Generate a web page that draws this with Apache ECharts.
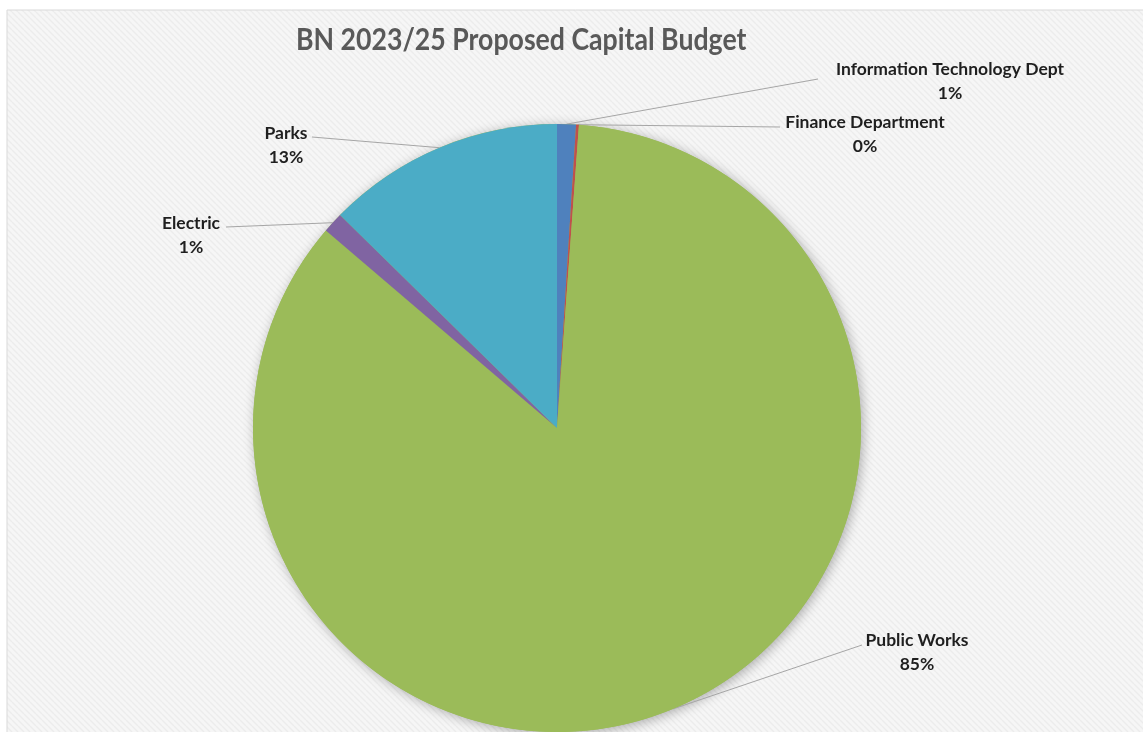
<!DOCTYPE html>
<html>
<head>
<meta charset="utf-8">
<title>BN 2023/25 Proposed Capital Budget</title>
<script src="https://cdn.jsdelivr.net/npm/echarts@6/dist/echarts.min.js"></script>
<style>
  html, body { margin: 0; padding: 0; background: #ffffff; }
  #chart { width: 1143px; height: 732px; }
</style>
</head>
<body>
<div id="chart"></div>
<script>
// Capital budget shares by department (percent of total)
const categories = ['Information Technology Dept', 'Finance Department', 'Public Works', 'Electric', 'Parks'];
const values = [1.0, 0.15, 85.1, 1.1, 12.65];
const sliceColors = ['#4f81bd', '#c0504d', '#9bbb59', '#8064a2', '#4bacc6'];
const titleText = 'BN 2023/25 Proposed Capital Budget';

// Where each callout sits: label block centre and the end of its leader line
const calloutLayout = {
  'Information Technology Dept': { x: 950, y: 81, end: [818, 79] },
  'Finance Department':          { x: 865, y: 134, end: [780, 127] },
  'Public Works':                { x: 917, y: 652, end: [862, 645] },
  'Electric':                    { x: 191, y: 235, end: [226, 227] },
  'Parks':                       { x: 286, y: 145, end: [312, 137] }
};

const pieCenter = [557, 428];
const pieRadius = 304;

// Striped panel fill
const tile = document.createElement('canvas');
tile.width = 6; tile.height = 6;
const g = tile.getContext('2d');
g.fillStyle = '#f6f6f6';
g.fillRect(0, 0, 6, 6);
g.strokeStyle = '#ececec';
g.lineWidth = 1.4;
for (let k = -6; k <= 12; k += 6) {
  g.beginPath();
  g.moveTo(k, 0);
  g.lineTo(k + 6, 6);
  g.stroke();
}

const chart = echarts.init(document.getElementById('chart'), null, { renderer: 'canvas' });

const pieData = categories.map((name, i) => ({
  name: name,
  value: values[i],
  itemStyle: { color: sliceColors[i] }
}));

const total = values.reduce((a, b) => a + b, 0);

chart.setOption({
  animation: false,
  backgroundColor: '#ffffff',
  graphic: [
    {
      type: 'rect',
      z: -10,
      shape: { x: 7, y: 10, width: 1300, height: 900 },
      style: { fill: { image: tile, repeat: 'repeat' }, stroke: '#d9d9d9', lineWidth: 1 },
      silent: true
    },
    {
      // chart heading, slightly condensed
      type: 'text',
      x: 296,
      y: 40,
      scaleX: 0.86,
      z: 10,
      silent: true,
      style: {
        text: titleText,
        fontFamily: 'Lato',
        fontWeight: 'bold',
        fontSize: 31,
        fill: '#595959',
        align: 'left',
        verticalAlign: 'middle'
      }
    }
  ],
  series: [
    {
      // soft shadow disc behind the slices
      type: 'pie',
      silent: true,
      center: pieCenter,
      radius: pieRadius,
      z: 1,
      label: { show: false },
      labelLine: { show: false },
      itemStyle: {
        color: '#9bbb59',
        shadowBlur: 12,
        shadowOffsetX: 2,
        shadowOffsetY: 2,
        shadowColor: 'rgba(0,0,0,0.3)'
      },
      emphasis: { disabled: true },
      data: [{ name: 'total', value: total }]
    },
    {
      type: 'pie',
      center: pieCenter,
      radius: pieRadius,
      z: 2,
      startAngle: 90,
      clockwise: true,
      avoidLabelOverlap: false,
      percentPrecision: 0,
      emphasis: { disabled: true },
      data: pieData,
      label: {
        show: true,
        position: 'outside',
        formatter: '{b}\n{d}%',
        fontFamily: 'Lato',
        fontWeight: 'bold',
        fontSize: 17.5,
        lineHeight: 24,
        color: '#1f1f1f',
        align: 'center'
      },
      labelLine: {
        show: true,
        length: 10,
        length2: 10,
        smooth: false,
        lineStyle: { color: '#a6a6a6', width: 1 }
      },
      labelLayout: function (params) {
        const name = categories[params.dataIndex];
        const c = calloutLayout[name];
        const start = params.labelLinePoints ? params.labelLinePoints[0] : c.end;
        return {
          x: c.x,
          y: c.y,
          align: 'center',
          verticalAlign: 'middle',
          labelLinePoints: [start, c.end]
        };
      }
    }
  ]
});
</script>
</body>
</html>
